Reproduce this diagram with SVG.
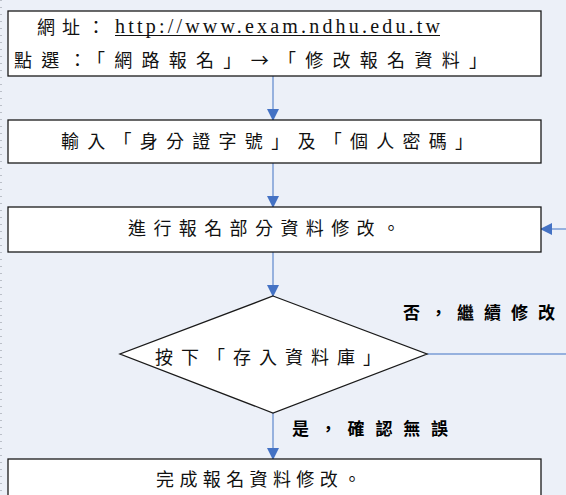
<svg xmlns="http://www.w3.org/2000/svg" width="566" height="495" viewBox="0 0 566 495">
<defs>
<style>
.bg{fill:#ECF0F8}
.box{fill:#FFFFFF;stroke:#1a1a1a;stroke-width:1.3}
.t{font-family:"Liberation Serif","Noto Sans CJK TC",serif;font-size:18px;fill:#111}
.b{font-family:"Liberation Serif","Noto Sans CJK TC",serif;font-size:17px;font-weight:bold;fill:#000}
.url{font-family:"Liberation Serif",serif;font-size:20px;fill:#111}
.cjk{font-family:"Noto Sans CJK TC",sans-serif}
.ln{stroke:#7A9CD6;stroke-width:1.5;fill:none}
</style>
<marker id="ah" markerWidth="12" markerHeight="12" refX="11" refY="6" orient="auto" markerUnits="userSpaceOnUse">
<path d="M0,0 L12,6 L0,12 Z" fill="#4472C4"/>
</marker>
</defs>
<rect class="bg" x="0" y="0" width="566" height="495"/>
<line x1="1" y1="0" x2="1" y2="495" stroke="#8a8f99" stroke-width="1" stroke-dasharray="1,6"/>
<g id="connectors">
<line class="ln" x1="273" y1="76" x2="273" y2="120" marker-end="url(#ah)"/>
<line class="ln" x1="273" y1="163" x2="273" y2="207" marker-end="url(#ah)"/>
<line class="ln" x1="273" y1="252" x2="273" y2="296" marker-end="url(#ah)"/>
<line class="ln" x1="273" y1="413" x2="273" y2="459" marker-end="url(#ah)"/>
<line class="ln" x1="427" y1="354" x2="566" y2="354"/>
<line class="ln" x1="566" y1="229" x2="541" y2="229" marker-end="url(#ah)"/>
<text class="b" x="403" y="319" textLength="152" lengthAdjust="spacing">否，繼續修改</text>
<text class="b" x="292" y="435" textLength="156" lengthAdjust="spacing">是，確認無誤</text>
</g>
<g id="n1">
<rect class="box" x="8" y="11" width="533" height="65"/>
<text class="t" x="37" y="34" textLength="68" lengthAdjust="spacing">網址：</text>
<text class="url" x="115" y="33" textLength="325" lengthAdjust="spacing">http://www.exam.ndhu.edu.tw</text>
<line x1="115" y1="35.5" x2="440" y2="35.5" stroke="#111" stroke-width="1"/>
<text class="t" x="14" y="67" textLength="473" lengthAdjust="spacing">點選：「網路報名」<tspan class="cjk">→</tspan>「修改報名資料」</text>
</g>
<g id="n2">
<rect class="box" x="8" y="120" width="533" height="43"/>
<text class="t" x="61" y="148" textLength="412" lengthAdjust="spacing">輸入「身分證字號」及「個人密碼」</text>
</g>
<g id="n3">
<rect class="box" x="8" y="207" width="533" height="45"/>
<text class="t" x="128" y="235" textLength="272" lengthAdjust="spacing">進行報名部分資料修改。</text>
</g>
<g id="n4">
<polygon class="box" points="273,296 427,354 273,413 120,354"/>
<text class="t" x="155" y="364" textLength="226" lengthAdjust="spacing">按下「存入資料庫」</text>
</g>
<g id="n5">
<rect class="box" x="8" y="459" width="533" height="45"/>
<text class="t" x="156" y="486" textLength="205" lengthAdjust="spacing">完成報名資料修改。</text>
</g>
</svg>
